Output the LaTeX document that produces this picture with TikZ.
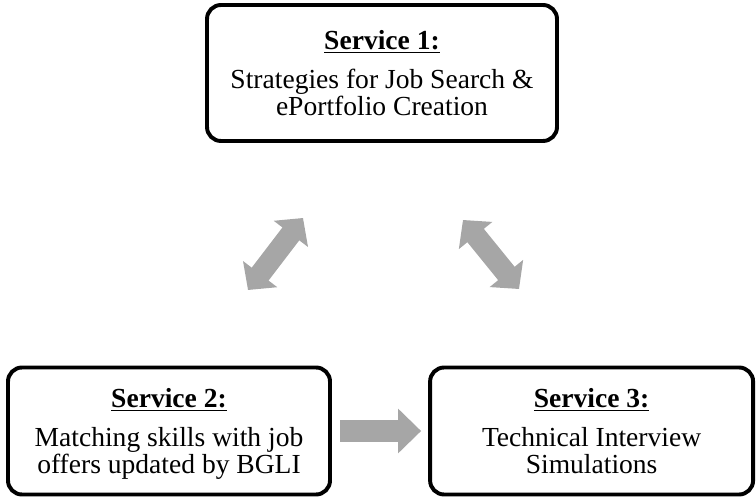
\documentclass[tikz,border=0pt]{standalone}
\usepackage{fontspec}
\setmainfont{Liberation Serif}
\usetikzlibrary{arrows.meta}

\tikzset{
  servicebox/.style={draw, line width=2.8pt, rounded corners=0.35cm,
    align=center, inner sep=0pt, text depth=0pt, minimum height=3.2cm,
    font=\fontsize{19.6}{19.3}\selectfont},
  linkarrow/.style={draw=black!35, line width=0.53cm,
    -{Triangle[width=1.05cm,length=0.5cm]}},
  botharrow/.style={linkarrow, {Triangle[width=1.05cm,length=0.5cm]}-{Triangle[width=1.05cm,length=0.5cm]}}
}

\begin{document}
\begin{tikzpicture}
\useasboundingbox (0,0) rectangle (18.9,-12.45);

\draw (9.55,-1.825) node (s1) [servicebox, minimum width=8.75cm, minimum height=3.4cm]
  {\underline{\textbf{Service 1:}}\\[8pt] Strategies for Job Search \&\\ ePortfolio Creation};
\draw (4.225,-10.775) node (s2) [servicebox, minimum width=8.05cm, minimum height=3.175cm]
  {\underline{\textbf{Service 2:}}\\[8pt] Matching skills with job\\ offers updated by BGLI};
\draw (14.79,-10.775) node (s3) [servicebox, minimum width=8.075cm, minimum height=3.175cm]
  {\underline{\textbf{Service 3:}}\\[8pt] Technical Interview\\ Simulations};

\coordinate (l1) at (6.2,-7.25);
\coordinate (l2) at (7.575,-5.45);
\coordinate (r1) at (11.575,-5.5);
\coordinate (r2) at (12.975,-7.225);
\draw[botharrow] (l1) -- (l2);
\draw[botharrow] (r1) -- (r2);

\draw[linkarrow, line width=0.55cm, -{Triangle[width=1.08cm,length=0.575cm]},
  shorten <=0.2cm, shorten >=0.175cm] (s2) -- (s3);
\end{tikzpicture}
\end{document}
